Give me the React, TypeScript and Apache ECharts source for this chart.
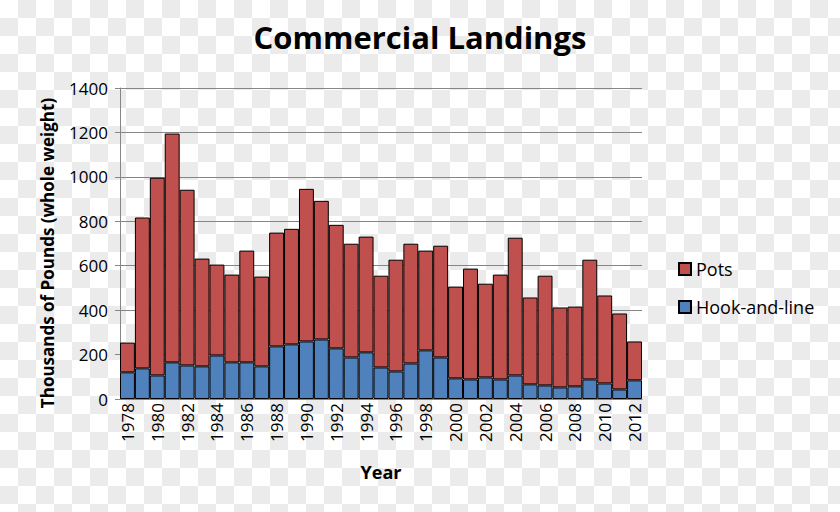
import React, { useEffect, useRef } from "react";
import * as echarts from "echarts";

const years = [
  "1978","1979","1980","1981","1982","1983","1984","1985","1986","1987",
  "1988","1989","1990","1991","1992","1993","1994","1995","1996","1997",
  "1998","1999","2000","2001","2002","2003","2004","2005","2006","2007",
  "2008","2009","2010","2011","2012",
];

const hookAndLine = [
  120, 138, 106, 165, 151, 147, 196, 165, 165, 147,
  237, 246, 259, 268, 228, 187, 210, 142, 124, 160,
  219, 187, 93, 88, 97, 88, 106, 66, 61, 52,
  57, 88, 70, 43, 84,
];

const totals = [
  254, 817, 996, 1195, 942, 632, 605, 560, 668, 551,
  749, 766, 946, 892, 784, 699, 731, 555, 627, 699,
  668, 690, 506, 587, 519, 560, 726, 457, 555, 412,
  416, 627, 466, 385, 259,
];

const pots = totals.map((t, i) => t - hookAndLine[i]);

const yTicks = { min: 0, max: 1400, interval: 200 };

const FONT = "'Open Sans', sans-serif";

export default function App() {
  const ref = useRef<HTMLDivElement>(null);
  useEffect(() => {
    if (!ref.current) return;
    const chart = echarts.init(ref.current, null, { renderer: "svg" });
    chart.setOption({
      animation: false,
      backgroundColor: "transparent",
      textStyle: { fontFamily: FONT },
      title: {
        text: "Commercial Landings",
        left: "center",
        top: 16,
        textStyle: { fontFamily: FONT, fontSize: 31, fontWeight: "bold", color: "#000" },
      },
      legend: {
        orient: "vertical",
        left: 673,
        top: 255,
        itemWidth: 12,
        itemHeight: 12,
        itemGap: 20,
        icon: "rect",
        textStyle: { fontFamily: FONT, fontSize: 18, color: "#000" },
        data: ["Pots", "Hook-and-line"],
      },
      grid: { left: 120, right: 198, top: 88, bottom: 113 },
      graphic: [
        {
          type: "text",
          x: 47,
          y: 253,
          rotation: Math.PI / 2,
          style: {
            text: "Thousands of Pounds (whole weight)",
            fontFamily: FONT,
            fontSize: 17,
            fontWeight: "bold",
            fill: "#000",
            textAlign: "center",
            textVerticalAlign: "middle",
          },
        },
      ],
      xAxis: {
        type: "category",
        data: years,
        name: "Year",
        nameLocation: "middle",
        nameGap: 64,
        nameTextStyle: { fontFamily: FONT, fontSize: 18, fontWeight: "bold", color: "#000" },
        axisLine: { lineStyle: { color: "#868686" } },
        axisTick: { show: false },
        axisLabel: {
          interval: 1,
          rotate: 90,
          fontSize: 17,
          color: "#000",
          margin: 4,
          fontFamily: FONT,
        },
      },
      yAxis: {
        type: "value",
        min: yTicks.min,
        max: yTicks.max,
        interval: yTicks.interval,
        axisLine: { show: true, lineStyle: { color: "#868686" } },
        axisTick: { show: true, length: 5, lineStyle: { color: "#868686" } },
        axisLabel: {
          fontSize: 17,
          color: "#000",
          margin: 12,
          fontFamily: FONT,
          formatter: (v: number) => String(v),
        },
        splitLine: { lineStyle: { color: "#868686", width: 1 } },
      },
      series: [
        {
          name: "Hook-and-line",
          type: "bar",
          stack: "total",
          data: hookAndLine,
          barCategoryGap: "0%",
          itemStyle: { color: "#4F81BD", borderColor: "#000", borderWidth: 1 },
        },
        {
          name: "Pots",
          type: "bar",
          stack: "total",
          data: pots,
          barCategoryGap: "0%",
          itemStyle: { color: "#C0504D", borderColor: "#000", borderWidth: 1 },
        },
      ],
    });
    return () => chart.dispose();
  }, []);

  return (
    <div
      style={{
        position: "absolute",
        left: 0,
        top: 0,
        width: 840,
        height: 512,
        backgroundColor: "#ffffff",
        backgroundImage:
          "conic-gradient(#ebebeb 25%, transparent 0 50%, #ebebeb 0 75%, transparent 0)",
        backgroundSize: "36px 36px",
      }}
    >
      <div ref={ref} style={{ width: 840, height: 512 }} />
    </div>
  );
}
